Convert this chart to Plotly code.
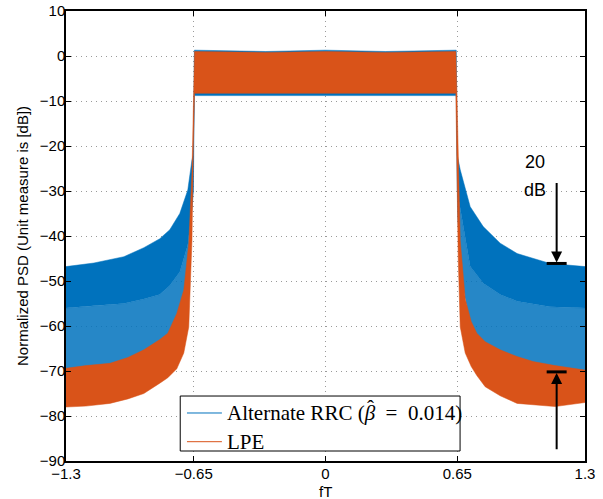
import plotly.graph_objects as go

# ---------------- data ----------------
# Alternate RRC (blue): envelope of the dense PSD trace
blue_freq = [-1.3, -1.16, -1.01, -0.91, -0.83, -0.78, -0.73, -0.69, -0.669, -0.662,
             -0.657, -0.3, 0.0, 0.3, 0.655, 0.66, 0.675, 0.725, 0.79, 0.875, 0.96, 1.125, 1.3]
blue_upper = [-46.8, -46.0, -44.6, -42.6, -40.6, -38.6, -35.0, -29.8, -23.1, -22.0,
              1.3, 1.0, 1.3, 1.0, 1.3, -22.0, -25.3, -33.5, -37.9, -41.6, -43.9, -46.1, -46.8]
blue_core_lower = [-56.0, -55.5, -55.0, -54.0, -53.0, -51.0, -48.0, -42.0, -34.0, -30.0,
                   -8.8, -8.8, -8.8, -8.8, -8.8, -30.0, -34.0, -46.8, -50.5, -53.0, -54.5, -55.7, -56.0]
blue_lower = [-72.0, -71.0, -70.0, -68.0, -66.0, -63.0, -58.0, -50.0, -35.0, -15.0,
              -8.8, -8.8, -8.8, -8.8, -8.8, -35.0, -48.0, -60.0, -66.0, -68.0, -69.0, -70.5, -71.5]

# LPE (orange): envelope of the dense PSD trace
lpe_freq = [-1.3, -1.2, -1.08, -0.99, -0.91, -0.83, -0.79, -0.745, -0.71, -0.685, -0.669,
            -0.662, -0.656, -0.3, 0.0, 0.3, 0.653, 0.659, 0.665, 0.675, 0.70, 0.73, 0.758,
            0.8, 0.875, 0.96, 1.04, 1.15, 1.3]
lpe_upper = [-69.4, -68.8, -68.3, -67.0, -65.3, -63.0, -61.6, -57.2, -52.0, -41.6, -26.0,
             -8.0, 1.0, 0.8, 1.0, 0.8, 1.0, -10.0, -20.0, -41.0, -54.0, -59.0, -61.6,
             -63.5, -65.3, -66.8, -67.9, -68.8, -69.8]
lpe_lower = [-78.0, -77.8, -77.2, -76.2, -75.0, -72.7, -71.5, -69.5, -66.0, -60.2, -41.0,
             -20.0, -8.3, -8.3, -8.3, -8.3, -8.3, -30.0, -45.0, -60.2, -66.0, -69.0, -71.0,
             -73.5, -75.5, -77.2, -77.5, -77.9, -77.0]

series_names = ["Alternate RRC (<i>β</i>&nbsp; = &nbsp;0.014)", "LPE"]

x_tick_vals = [-1.3, -0.66, 0, 0.66, 1.3]
x_tick_text = ["\u22121.3", "\u22120.65", "0", "0.65", "1.3"]
y_tick_vals = [-90, -80, -70, -60, -50, -40, -30, -20, -10, 0, 10]

# "20 dB" annotation geometry (data units)
arrow_x = 1.158
upper_level = -46.1
lower_level = -70.2
upper_tail = -27.9
lower_tail = -87.7
bar_half = 0.05

BLUE = "#0072BD"
ORANGE = "#D95319"
SANS = "Liberation Sans, Arial, sans-serif"
SERIF = "Liberation Serif, Times New Roman, serif"


def band(xs, hi, lo):
    return xs + xs[::-1], hi + lo[::-1]


fig = go.Figure()

bx, by = band(blue_freq, blue_core_lower, blue_lower)
fig.add_trace(go.Scatter(x=bx, y=by, fill="toself", mode="lines", line=dict(width=0),
                         fillcolor="rgba(0,114,189,0.85)", showlegend=False, hoverinfo="skip",
                         name="Alternate RRC"))
bx, by = band(blue_freq, blue_upper, blue_core_lower)
fig.add_trace(go.Scatter(x=bx, y=by, fill="toself", mode="lines", line=dict(width=0.5, color=BLUE),
                         fillcolor=BLUE, showlegend=False, hoverinfo="skip", name="Alternate RRC"))
ox, oy = band(lpe_freq, lpe_upper, lpe_lower)
fig.add_trace(go.Scatter(x=ox, y=oy, fill="toself", mode="lines", line=dict(width=0.5, color=ORANGE),
                         fillcolor=ORANGE, showlegend=False, hoverinfo="skip", name="LPE"))

# ---- legend box (drawn in paper coordinates, MATLAB style) ----
leg_x0, leg_x1, leg_y0, leg_y1 = 0.2201, 0.7593, 0.0222, 0.1444
row_y = [0.1067, 0.0429]
sample_x0, sample_x1, text_x = 0.2331, 0.3004, 0.3067
fig.add_shape(type="rect", xref="paper", yref="paper", x0=leg_x0, x1=leg_x1, y0=leg_y0, y1=leg_y1,
              line=dict(color="black", width=1), fillcolor="white", layer="above")
for name, color, ry in zip(series_names, [BLUE, ORANGE], row_y):
    fig.add_shape(type="line", xref="paper", yref="paper", x0=sample_x0, x1=sample_x1, y0=ry, y1=ry,
                  line=dict(color=color, width=1), layer="above")
    fig.add_annotation(xref="paper", yref="paper", x=text_x, y=ry, xanchor="left", yanchor="middle",
                       text=name, showarrow=False, font=dict(family=SERIF, size=21, color="black"))
# hat over the beta of the first legend entry
fig.add_annotation(xref="paper", yref="paper", x=text_x, y=row_y[0], xanchor="center",
                   yanchor="middle", xshift=145, yshift=5, text="ˆ", showarrow=False,
                   font=dict(family=SERIF, size=21, color="black"))

# arrows and bars
for tip, tail in [(upper_level, upper_tail), (lower_level, lower_tail)]:
    fig.add_annotation(x=arrow_x, y=tip, ax=arrow_x, ay=tail, axref="x", ayref="y",
                       xref="x", yref="y", text="", showarrow=True, arrowhead=2,
                       arrowsize=1.1, arrowwidth=2, arrowcolor="black", standoff=1)
    fig.add_shape(type="line", x0=arrow_x - bar_half, x1=arrow_x + bar_half, y0=tip, y1=tip,
                  xref="x", yref="y", line=dict(color="black", width=3))

fig.add_annotation(x=1.05, y=-23.6, text="20", showarrow=False,
                   font=dict(family=SANS, size=18, color="black"))
fig.add_annotation(x=1.05, y=-29.8, text="dB", showarrow=False,
                   font=dict(family=SANS, size=18, color="black"))

# axis titles placed as text
fig.add_annotation(x=0, y=0, xref="x", yref="paper", yanchor="top", yshift=-20,
                   text="fT", showarrow=False, font=dict(family=SANS, size=15, color="black"))
fig.add_annotation(x=0, y=0.5, xref="paper", yref="paper", xanchor="center", yanchor="middle",
                   xshift=-44, textangle=-90, text="Normalized PSD (Unit measure is [dB])",
                   showarrow=False, font=dict(family=SANS, size=15, color="black"))

axis_common = dict(showline=True, linecolor="black", linewidth=1.5, mirror="ticks",
                   ticks="inside", ticklen=5, tickcolor="black", tickwidth=1,
                   showgrid=True, gridcolor="#9a9a9a", griddash="1px,4px", gridwidth=1,
                   zeroline=False, automargin=False,
                   tickfont=dict(family=SANS, size=15, color="black"))

fig.update_xaxes(range=[-1.3, 1.3], tickvals=x_tick_vals, ticktext=x_tick_text,
                 ticklabelstandoff=-2, **axis_common)
fig.update_yaxes(range=[-90, 10], tickvals=y_tick_vals, ticklabelstandoff=-4, **axis_common)

fig.update_layout(
    width=603, height=499,
    margin=dict(l=66, r=18, t=11, b=38),
    paper_bgcolor="white", plot_bgcolor="white",
    showlegend=False,
)

fig.write_html("out.html", config={"displayModeBar": False},
               post_script="document.body.style.margin='0';document.body.style.padding='0';")
